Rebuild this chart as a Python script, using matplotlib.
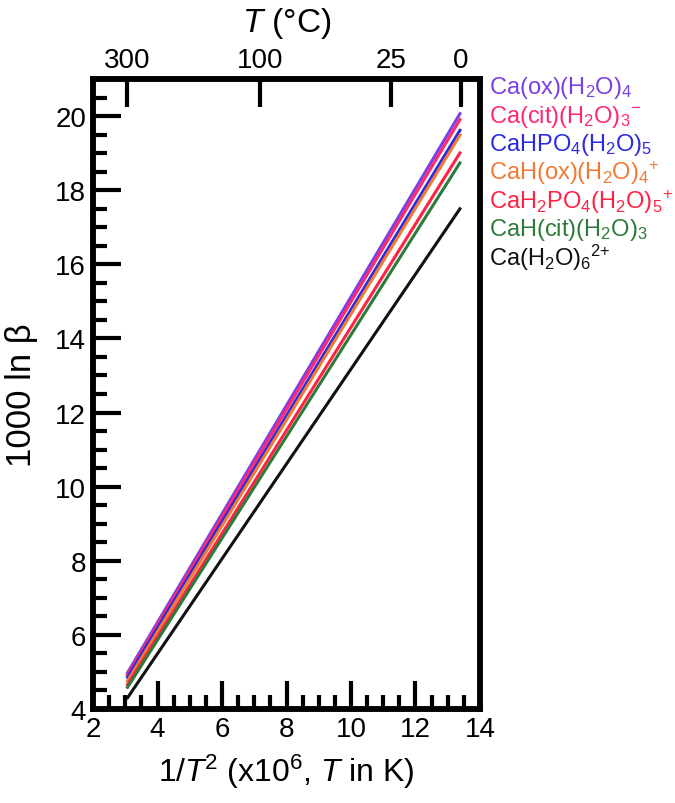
import numpy as np
import matplotlib
matplotlib.use('Agg')
import matplotlib.pyplot as plt
from matplotlib.ticker import MultipleLocator

plt.rcParams['font.family'] = ['Liberation Sans', 'DejaVu Sans']
plt.rcParams['mathtext.fontset'] = 'custom'
plt.rcParams['mathtext.rm'] = 'Liberation Sans'
plt.rcParams['mathtext.it'] = 'Liberation Sans:italic'
plt.rcParams['mathtext.default'] = 'regular'

# temperature range of the lines (deg C): hot end, cold end
T_ends_C = [300, 0]
top_ticks_C = [300, 100, 25, 0]

species = [
    'Ca(ox)(H$_2$O)$_4$',
    'Ca(cit)(H$_2$O)$_3$$^{-}$',
    'CaHPO$_4$(H$_2$O)$_5$',
    'CaH(ox)(H$_2$O)$_4$$^{+}$',
    'CaH$_2$PO$_4$(H$_2$O)$_5$$^{+}$',
    'CaH(cit)(H$_2$O)$_3$',
    'Ca(H$_2$O)$_6$$^{2{+}}$',
]
colors = ['#7a3fe6', '#ff2a6e', '#2a2ae0', '#f07a35', '#ff2244', '#2e7a3a', '#111111']
# 1000 ln beta at 300 C and at 0 C
beta_hot = [4.94, 4.88, 4.82, 4.72, 4.62, 4.55, 4.27]
beta_cold = [20.10, 19.94, 19.65, 19.52, 19.04, 18.77, 17.53]


def inv_t2(tc):
    return 1e6 / (np.asarray(tc, dtype=float) + 273.15) ** 2


fig = plt.figure(figsize=(6.75, 8.04), dpi=100)
ax = fig.add_axes([0.1378, 0.1169, 0.5733, 0.7836])

x_ends = inv_t2(T_ends_C)
for c, b0, b1 in zip(colors, beta_hot, beta_cold):
    ax.plot(x_ends, [b0, b1], color=c, lw=2.2, solid_capstyle='butt')

ax.set_xlim(2, 14)
ax.set_ylim(4, 21)
ax.xaxis.set_major_locator(MultipleLocator(2))
ax.xaxis.set_minor_locator(MultipleLocator(0.5))
ax.yaxis.set_major_locator(MultipleLocator(2))
ax.yaxis.set_minor_locator(MultipleLocator(0.5))
ax.tick_params(which='major', direction='in', length=20, width=3, labelsize=20, pad=5)
ax.tick_params(which='minor', direction='in', length=10, width=3)
ax.tick_params(top=False, right=False, which='both')
for s in ax.spines.values():
    s.set_linewidth(4)

ax.set_xlabel('1/$\\mathit{T}$$^2$ (x10$^6$, $\\mathit{T}$ in K)', fontsize=23, labelpad=7)
ax.set_ylabel('1000 ln \u03b2', fontsize=25, labelpad=12)

top = ax.twiny()
top.set_xlim(ax.get_xlim())
top.set_xticks(inv_t2(top_ticks_C))
top.set_xticklabels([str(t) for t in top_ticks_C])
top.tick_params(direction='in', length=20, width=3, labelsize=20, pad=4)
top.set_xlabel('$\\mathit{T}$ (\u00b0C)', fontsize=24, labelpad=12)
for s in top.spines.values():
    s.set_linewidth(4)

# coloured species labels to the right of the axes
for i, (name, c) in enumerate(zip(species, colors)):
    fig.text(0.724, 0.890 - i * 0.0352, name, color=c, fontsize=17,
             ha='left', va='center')

fig.savefig('out.png', dpi=100)
